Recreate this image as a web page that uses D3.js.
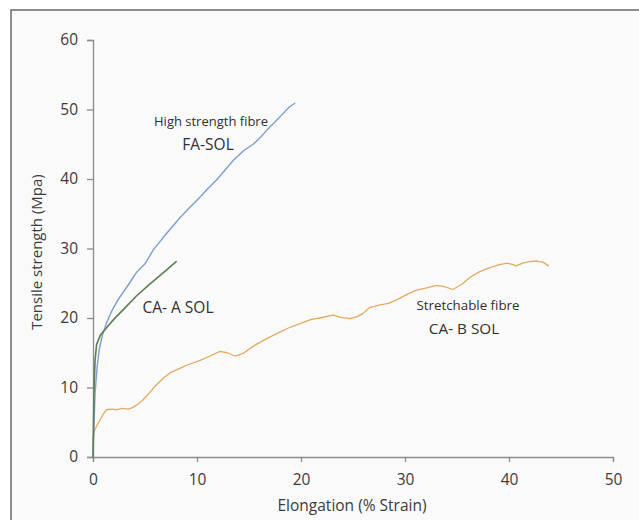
<!DOCTYPE html>
<html>
<head>
<meta charset="utf-8">
<script src="https://cdnjs.cloudflare.com/ajax/libs/d3/7.8.5/d3.min.js"></script>
<style>
  body { margin: 0; background: #fff; }
  svg { display: block; font-family: "Open Sans", sans-serif; }
</style>
</head>
<body>
<svg id="chart" width="639" height="520"></svg>
<script>
// strain (%) / strength (MPa) pairs
const faSol = [
    [0, 0], [0.1, 5], [0.2, 9.2], [0.4, 13], [0.6, 15.5], [0.9, 17.5], [1.3, 19.3],
    [1.8, 21], [2.4, 22.6], [3.5, 25], [4.2, 26.6], [5, 27.8], [5.8, 29.8], [6.7, 31.5],
    [7.6, 33.1], [8.4, 34.5], [9.3, 35.9], [10.3, 37.4], [11.1, 38.7], [11.9, 39.9],
    [12.7, 41.3], [13.5, 42.7], [14.5, 44.1], [15.4, 45], [16.1, 46], [16.7, 47],
    [17.5, 48.2], [18.2, 49.3], [18.9, 50.4], [19.4, 50.9]
];
const caASol = [
    [0, 0], [0.05, 5], [0.1, 10], [0.2, 14], [0.35, 16.2], [0.7, 17.5], [1.3, 18.6],
    [2, 19.8], [3.1, 21.5], [4.2, 23.2], [5.4, 24.8], [6.6, 26.3], [8.0, 28.1]
];
const caBSol = [
    [0, 2.6], [0.15, 3.8], [0.4, 4.6], [0.7, 5.4], [1.0, 6.2], [1.3, 6.8], [1.8, 6.9],
    [2.3, 6.8], [2.8, 7.0], [3.4, 6.9], [3.8, 7.1], [4.3, 7.6], [4.8, 8.2], [5.4, 9.2],
    [6.1, 10.4], [6.8, 11.4], [7.4, 12.1], [8.4, 12.8], [9.0, 13.2], [10.3, 13.9],
    [11.2, 14.5], [12.2, 15.2], [12.9, 15.0], [13.7, 14.5], [14.4, 14.9], [15.7, 16.2],
    [16.8, 17.1], [18.0, 18.0], [19.0, 18.7], [19.9, 19.2], [21.0, 19.8], [21.8, 20.0],
    [23.1, 20.4], [23.8, 20.1], [24.7, 19.9], [25.4, 20.2], [26.0, 20.7], [26.6, 21.5],
    [27.6, 21.9], [28.4, 22.1], [29.2, 22.6], [30.2, 23.4], [31.1, 24.0], [32.0, 24.3],
    [33.0, 24.7], [33.8, 24.5], [34.6, 24.1], [35.5, 24.9], [36.3, 25.9], [37.1, 26.6],
    [37.9, 27.1], [38.9, 27.6], [39.8, 27.9], [40.3, 27.7], [40.7, 27.5], [41.3, 27.9],
    [42.0, 28.1], [42.7, 28.2], [43.3, 28.0], [43.8, 27.5]
];
const xTicks = [0, 10, 20, 30, 40, 50];
const yTicks = [0, 10, 20, 30, 40, 50, 60];

const svg = d3.select("#chart");

svg.append("rect")
    .attr("x", 11).attr("y", 10)
    .attr("width", 660).attr("height", 540)
    .attr("fill", "#fafafa")
    .attr("stroke", "#6a6a6a")
    .attr("stroke-width", 1.5);

const x = d3.scaleLinear().domain([0, 50]).range([93, 613]);
const y = d3.scaleLinear().domain([0, 60]).range([457, 40]);

const xAxis = svg.append("g")
    .attr("transform", "translate(0," + y(0) + ")")
    .call(d3.axisBottom(x).tickValues(xTicks).tickSize(5).tickPadding(12));
const yAxis = svg.append("g")
    .attr("transform", "translate(" + x(0) + ",0)")
    .call(d3.axisLeft(y).tickValues(yTicks).tickSize(6).tickPadding(9));

[xAxis, yAxis].forEach(a => {
    a.select(".domain").attr("stroke", "#8c8c8c").attr("stroke-width", 1.3);
    a.selectAll(".tick line").attr("stroke", "#8c8c8c").attr("stroke-width", 1.3);
    a.selectAll(".tick text")
        .attr("fill", "#3a3a3a")
        .style("font-size", "15.5px")
        .style("font-family", "'Open Sans', sans-serif");
});

const line = d3.line()
    .x(d => x(d[0]))
    .y(d => y(d[1]));

const series = [
    {data: caBSol, color: "#e2aa62", width: 1.3},
    {data: faSol, color: "#7d9dd2", width: 1.4},
    {data: caASol, color: "#5e7d56", width: 1.6}
];
series.forEach(s => {
    svg.append("path")
        .datum(s.data)
        .attr("fill", "none")
        .attr("stroke", s.color)
        .attr("stroke-width", s.width)
        .attr("stroke-linejoin", "round")
        .attr("stroke-linecap", "round")
        .attr("d", line);
});

// annotations
const notes = [
    {text: "High strength fibre", x: 211, y: 121, size: 13},
    {text: "FA-SOL", x: 208, y: 144, size: 15.5},
    {text: "CA- A SOL", x: 178, y: 307, size: 15.5},
    {text: "Stretchable fibre", x: 468, y: 305, size: 13.3},
    {text: "CA- B SOL", x: 464, y: 328, size: 15.3}
];
svg.selectAll("text.note")
    .data(notes)
    .enter().append("text")
    .attr("class", "note")
    .attr("x", d => d.x)
    .attr("y", d => d.y)
    .attr("text-anchor", "middle")
    .attr("dominant-baseline", "central")
    .attr("fill", "#303030")
    .style("font-size", d => d.size + "px")
    .text(d => d.text);

svg.append("text")
    .attr("x", 352).attr("y", 505)
    .attr("text-anchor", "middle")
    .attr("dominant-baseline", "central")
    .attr("fill", "#3a3a3a")
    .style("font-size", "15.5px")
    .text("Elongation (% Strain)");

svg.append("text")
    .attr("transform", "translate(36,252) rotate(-90)")
    .attr("text-anchor", "middle")
    .attr("dominant-baseline", "central")
    .attr("fill", "#3a3a3a")
    .style("font-size", "15px")
    .text("Tensile strength (Mpa)");
</script>
</body>
</html>
